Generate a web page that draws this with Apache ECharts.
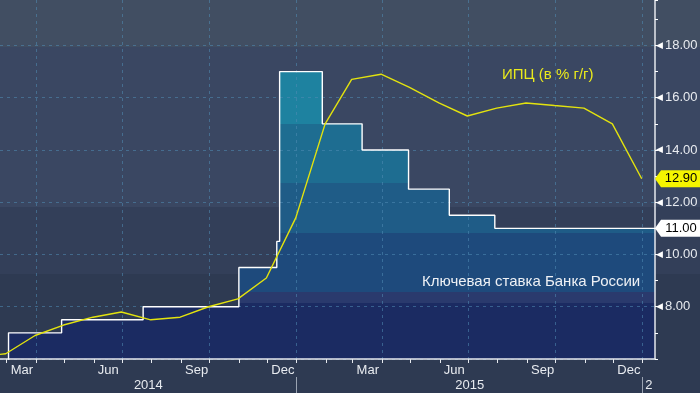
<!DOCTYPE html>
<html><head><meta charset="utf-8">
<script src="https://cdn.jsdelivr.net/npm/echarts@6/dist/echarts.min.js"></script>
<style>
html,body{margin:0;padding:0;overflow:hidden;}
#c{width:700px;height:393px;background:linear-gradient(to bottom,#414e62 0px,#414e62 47px,#3a4762 47px,#3a4762 207px,#333f59 207px,#333f59 274px,#2e3a52 274px,#2e3a52 100%);}
</style></head><body><div id="c"></div>
<script>
// ---- data ----
const cpiDates = ['2014-01-31','2014-02-28','2014-03-31','2014-04-30','2014-05-31','2014-06-30','2014-07-31','2014-08-31','2014-09-30','2014-10-31','2014-11-30','2014-12-31','2015-01-31','2015-02-28','2015-03-31','2015-04-30','2015-05-31','2015-06-30','2015-07-31','2015-08-31','2015-09-30','2015-10-31','2015-11-30','2015-12-31'];
const cpiValues = [6.1,6.2,6.9,7.3,7.6,7.8,7.5,7.6,8.0,8.3,9.1,11.4,15.0,16.7,16.9,16.4,15.8,15.3,15.6,15.8,15.7,15.6,15.0,12.9];
const rateDates = ['2014-02-01','2014-03-03','2014-04-28','2014-07-23','2014-11-01','2014-12-11','2014-12-14','2015-01-28','2015-03-11','2015-04-29','2015-06-11','2015-07-29','2016-01-14'];
const rateValues = [5.5,7.0,7.5,8.0,9.5,10.5,17.0,15.0,14.0,12.5,11.5,11.0,11.0];
const monthTicks = ['2014-03-01','2014-04-01','2014-05-01','2014-06-01','2014-07-01','2014-08-01','2014-09-01','2014-10-01','2014-11-01','2014-12-01','2015-01-01','2015-02-01','2015-03-01','2015-04-01','2015-05-01','2015-06-01','2015-07-01','2015-08-01','2015-09-01','2015-10-01','2015-11-01','2015-12-01','2016-01-01'];
const monthLabelDates = ['2014-03-01','2014-06-01','2014-09-01','2014-12-01','2015-03-01','2015-06-01','2015-09-01','2015-12-01'];
const monthNames = ['Jan','Feb','Mar','Apr','May','Jun','Jul','Aug','Sep','Oct','Nov','Dec'];
const quarterGrid = ['2014-04-01','2014-07-01','2014-10-01','2015-01-01','2015-04-01','2015-07-01','2015-10-01','2016-01-01'];
const yearBounds = ['2015-01-01','2016-01-01'];
const yearLabels = ['2014','2015','2'];
const xMin = '2014-02-22', xMax = '2016-01-14';
const yMin = 6, yMax = 19.74;
const yLabelValues = [8,10,12,14,16,18];
const cpiName = 'ИПЦ (в % г/г)';
const rateName = 'Ключевая ставка Банка России';

// ---- helpers ----
const ts = s => +echarts.number.parseDate(s);
const font = "'Liberation Sans',Arial,sans-serif";
const txt = '#e8ebf0';
const cpiData = cpiDates.map((d,i)=>[ts(d), cpiValues[i]]);
const rateData = rateDates.map((d,i)=>[ts(d), rateValues[i]]);
const yb = [ts(xMin)].concat(yearBounds.map(ts)).concat([ts(xMax)]);
const yearMid = yearLabels.map((l,i)=>(yb[i]+yb[i+1])/2);
const lastCpi = cpiValues[cpiValues.length-1];
const lastRate = rateValues[rateValues.length-1];
const nearestIdx = (arr,v)=>{let bi=0,bd=Infinity;arr.forEach((m,i)=>{const d=Math.abs(m-v);if(d<bd){bd=d;bi=i;}});return bi;};

const chart = echarts.init(document.getElementById('c'), null, {renderer:'canvas'});
const option = {
  animation:false,
  backgroundColor:'transparent',
  grid:{left:0,right:45,top:0,bottom:34,containLabel:false,outerBoundsMode:'none'},
  xAxis:[
    {type:'value', position:'bottom', min:ts(xMin), max:ts(xMax), z:3,
     axisLine:{show:true,lineStyle:{color:'#e6e9ee',width:1.5}},
     axisTick:{show:true,customValues:monthTicks.map(ts),length:4,lineStyle:{color:'#e6e9ee',width:1}},
     axisLabel:{show:true,customValues:monthLabelDates.map(ts),formatter:v=>monthNames[new Date(v).getMonth()],
       align:'left',padding:[0,0,0,4],margin:5,color:txt,fontSize:13,fontFamily:font},
     splitLine:{show:false}},
    {type:'value', position:'bottom', min:ts(xMin), max:ts(xMax), z:3,
     axisLine:{show:false}, axisTick:{show:false,customValues:quarterGrid.map(ts)}, axisLabel:{show:false},
     splitLine:{show:true,lineStyle:{color:'rgba(80,140,180,0.55)',type:[3,4],width:1}}},
    {type:'value', position:'bottom', offset:18, min:ts(xMin), max:ts(xMax), z:3,
     axisLine:{show:false},
     axisTick:{show:true,customValues:yearBounds.map(ts),length:16,lineStyle:{color:'#9aa3b2',width:1}},
     axisLabel:{show:true,customValues:yearMid,formatter:v=>yearLabels[nearestIdx(yearMid,v)],
       margin:2,color:txt,fontSize:13,fontFamily:font},
     splitLine:{show:false}}
  ],
  yAxis:[
    {type:'value', position:'right', min:yMin, max:yMax, interval:2, z:3,
     axisLine:{show:true,lineStyle:{color:'#e6e9ee',width:1.5}},
     axisTick:{show:false},
     axisLabel:{show:true,margin:1,formatter:v=>yLabelValues.indexOf(v)>=0?'{t|◀}{v|'+v.toFixed(2)+'}':'',
       rich:{t:{fontSize:9,color:'#ffffff',fontFamily:'DejaVu Sans',padding:[0,2,0,0]},v:{fontSize:13,color:txt,fontFamily:font}}},
     splitLine:{show:true,showMaxLine:false,lineStyle:{color:'rgba(80,140,180,0.55)',type:[3,4],width:1}}},
    {type:'value', position:'right', min:yMin, max:yMax, interval:1, z:3,
     axisLine:{show:false}, axisLabel:{show:false}, splitLine:{show:false},
     axisTick:{show:true,length:3,lineStyle:{color:'#ffffff',width:1}}}
  ],
  series:[
    {id:'rateArea', name:rateName, type:'line', step:'end', data:rateData, xAxisIndex:0, yAxisIndex:0,
     symbol:'none', z:1, lineStyle:{width:0}, areaStyle:{color:'#1e4a7c',opacity:1}, silent:true},
    {id:'rateLine', name:rateName, type:'line', step:'end', data:rateData, xAxisIndex:0, yAxisIndex:0,
     symbol:'none', z:4, lineStyle:{width:1.4,color:'#ffffff'}, silent:true},
    {id:'cpi', name:cpiName, type:'line', data:cpiData, xAxisIndex:0, yAxisIndex:0, clip:false,
     symbol:'none', z:5, lineStyle:{width:1.4,color:'#e3e30e'}, silent:true,
     markPoint:{symbol:'path://M0 8.5 L6 0 L46 0 L46 17 L6 17 Z', symbolSize:[46,17], symbolKeepAspect:false, symbolOffset:[23,0],
       label:{show:true,position:'inside',offset:[3,0],color:'#000',fontSize:13,fontFamily:font,formatter:p=>p.value.toFixed(2)},
       data:[
         {coord:[ts(xMax), lastCpi], value:lastCpi, itemStyle:{color:'#f5f500'}},
         {coord:[ts(xMax), lastRate], value:lastRate, itemStyle:{color:'#ffffff'}}
       ]}}
  ],
  graphic:[
    {type:'text', left:502, top:67, z:10, style:{text:cpiName, fill:'#eaea1c', font:"15px 'Liberation Sans'"}},
    {type:'text', left:422, top:274, z:10, style:{text:rateName, fill:'#eef1f5', font:"15px 'Liberation Sans'"}}
  ]
};
chart.setOption(option);

// area fill: hard colour bands by value, via the y-axis scale
const bands = [
  {from:15.0, color:'#1e82a0'},
  {from:12.75, color:'#1e6d91'},
  {from:10.84, color:'#1f5c87'},
  {from:8.58, color:'#1e4a7c'},
  {from:8.13, color:'#2a3a6d'},
  {from:-Infinity, color:'#1b2b62'}
];
const pTop = chart.convertToPixel({yAxisIndex:0}, yMax);
const pBot = chart.convertToPixel({yAxisIndex:0}, yMin);
const off = v => Math.min(1, Math.max(0, (yMax - v)/(yMax - yMin)));
const stops = [{offset:0,color:bands[0].color}];
for (let i=0;i<bands.length-1;i++){
  const o = off(bands[i].from);
  stops.push({offset:o,color:bands[i].color});
  stops.push({offset:o,color:bands[i+1].color});
}
stops.push({offset:1,color:bands[bands.length-1].color});
chart.setOption({series:[{id:'rateArea', areaStyle:{opacity:1,color:new echarts.graphic.LinearGradient(0,pTop,0,pBot,stops,true)}}]});
</script></body></html>
